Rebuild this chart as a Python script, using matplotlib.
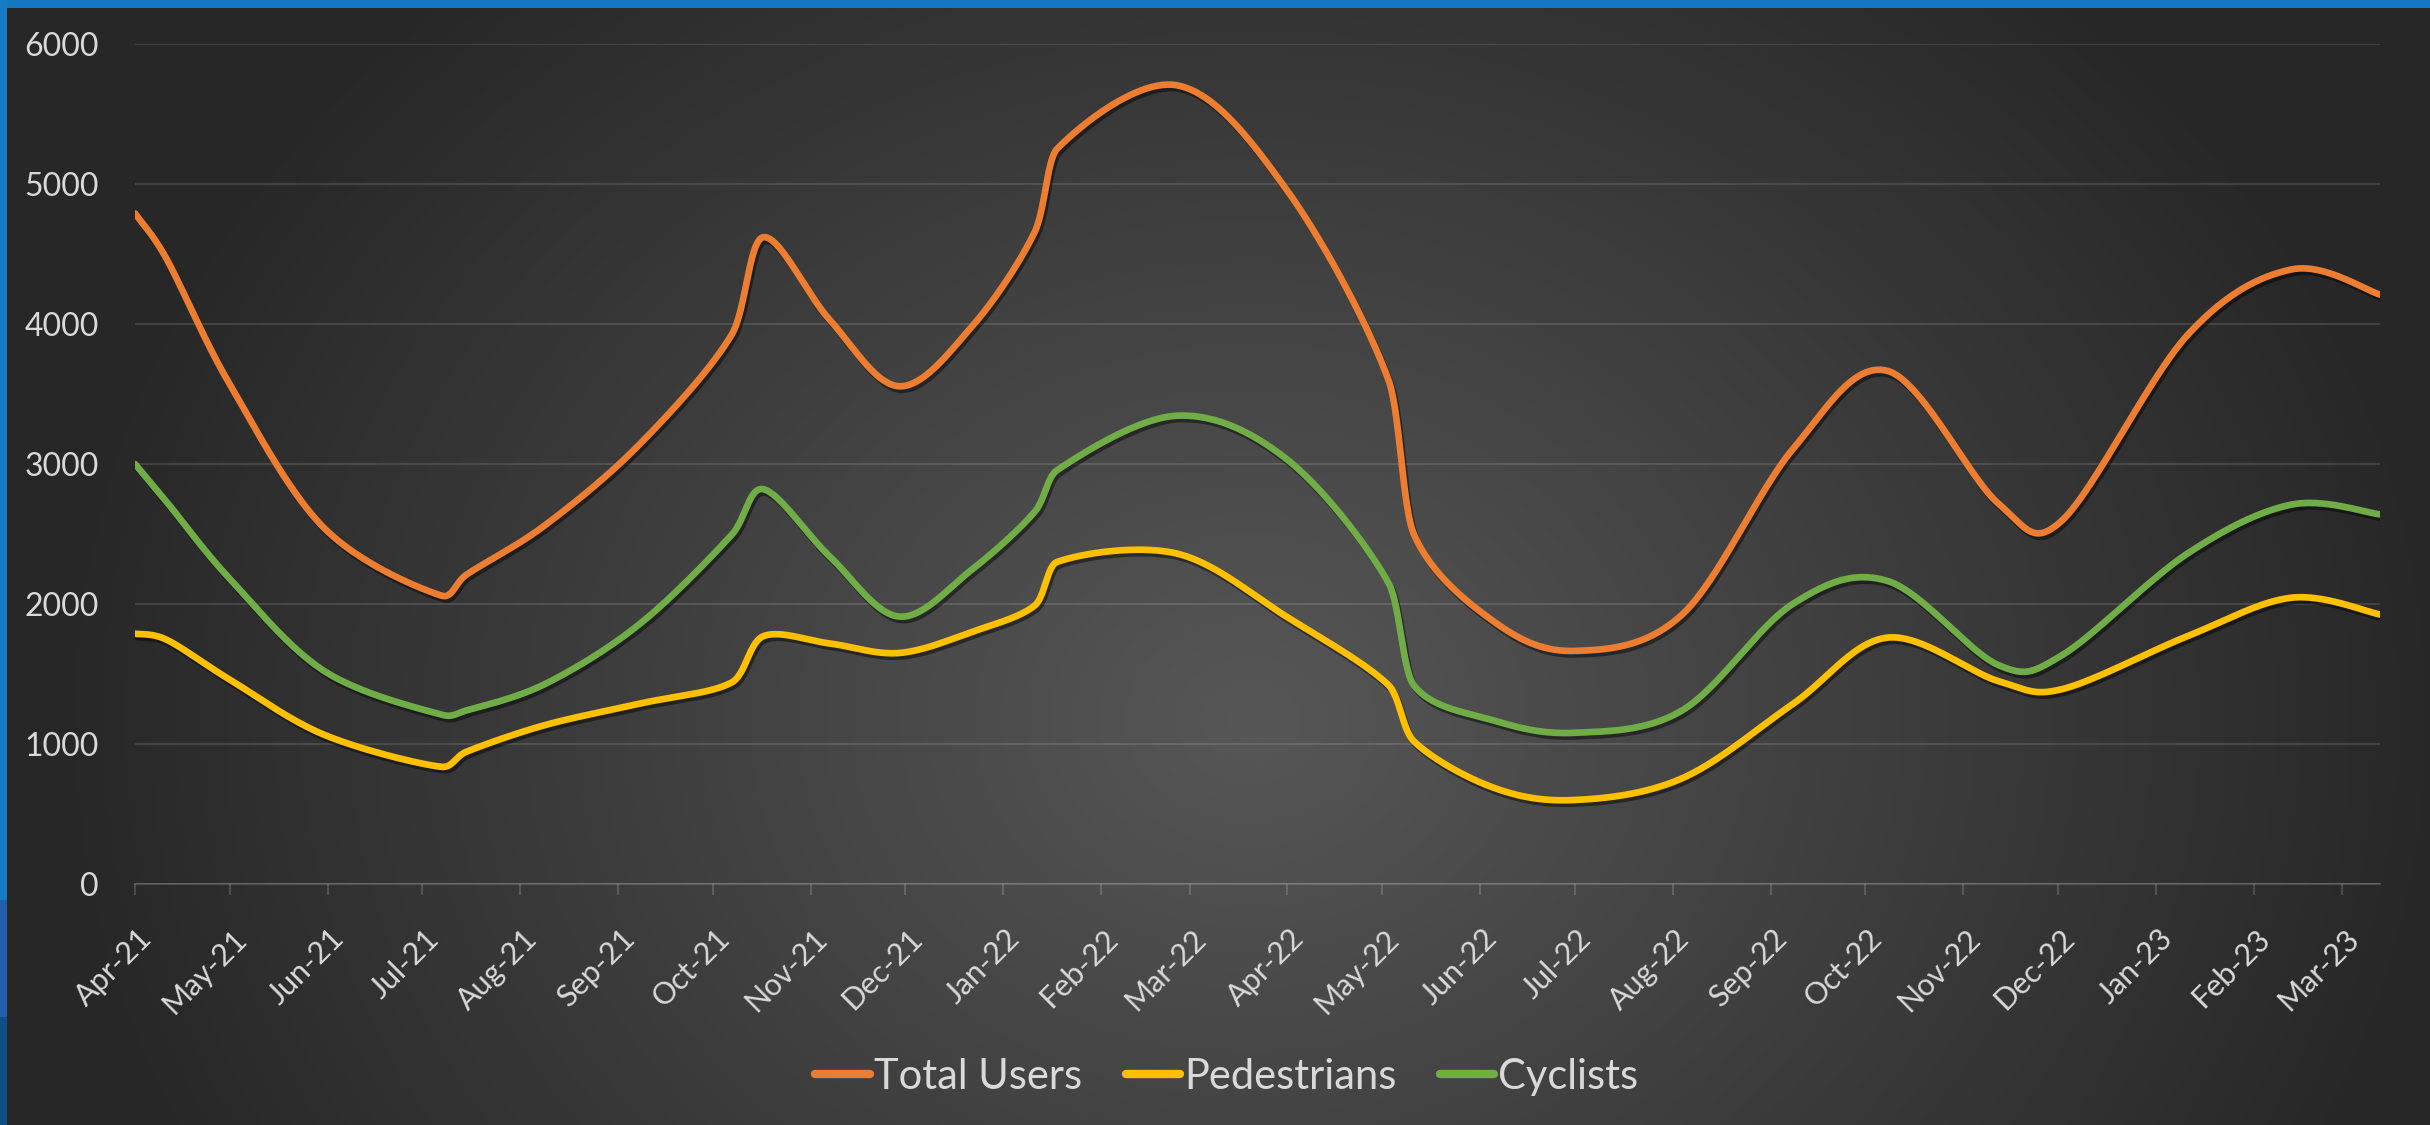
import numpy as np
import matplotlib
matplotlib.use("Agg")
import matplotlib.pyplot as plt
import matplotlib.dates as mdates
import matplotlib.patheffects as pe
from matplotlib.lines import Line2D
from matplotlib.transforms import ScaledTranslation

plt.rcParams['font.family'] = ['Lato', 'DejaVu Sans']

# data (Excel smoothed lines)
dates = ['2021-04-01', '2021-04-11', '2021-05-01', '2021-05-31', '2021-07-07',
         '2021-07-15', '2021-08-09', '2021-09-08', '2021-10-07', '2021-10-17',
         '2021-11-07', '2021-11-29', '2021-12-22', '2022-01-11', '2022-01-18',
         '2022-02-25', '2022-04-01', '2022-05-03', '2022-05-11', '2022-06-05',
         '2022-07-01', '2022-08-04', '2022-09-08', '2022-10-08', '2022-11-12',
         '2022-12-02', '2023-01-11', '2023-02-13', '2023-03-13']
total_users = [4790, 4465, 3570, 2540, 2060, 2210, 2565, 3145, 3925, 4620,
               4030, 3555, 3980, 4660, 5250, 5705, 4950, 3600, 2500, 1880,
               1665, 1925, 3105, 3665, 2720, 2590, 3920, 4390, 4210]
pedestrians = [1788, 1745, 1460, 1065, 837, 945, 1136, 1289, 1440, 1770,
               1718, 1650, 1800, 1990, 2300, 2360, 1905, 1420, 1020, 690,
               600, 755, 1285, 1760, 1450, 1390, 1770, 2045, 1925]
cyclists = [3000, 2730, 2180, 1520, 1210, 1240, 1430, 1860, 2495, 2820,
            2340, 1910, 2245, 2660, 2955, 3345, 3030, 2150, 1420, 1170,
            1080, 1240, 2000, 2165, 1565, 1630, 2360, 2710, 2640]

series = [("Total Users", total_users, "#ED7D31"),
          ("Pedestrians", pedestrians, "#FFC000"),
          ("Cyclists", cyclists, "#70AD47")]


def smooth(x, y, n=50):
    # bezier smoothing like excel's "smoothed line", tangents kept from looping back
    p = np.column_stack([x, y]).astype(float)
    out = []
    for i in range(len(p) - 1):
        p0 = p[i]
        p3 = p[i + 1]
        dx = p3[0] - p0[0]
        prev = p[i - 1] if i > 0 else p[i]
        nxt = p[i + 2] if i + 2 < len(p) else p[i + 1]
        t1 = (p3 - prev) / 6
        t2 = (nxt - p0) / 6
        if t1[0] > 0.45 * dx:
            t1 = t1 * 0.45 * dx / t1[0]
        if t2[0] > 0.45 * dx:
            t2 = t2 * 0.45 * dx / t2[0]
        p1 = p0 + t1
        p2 = p3 - t2
        t = np.linspace(0, 1, n)[:, None]
        seg = (1 - t) ** 3 * p0 + 3 * (1 - t) ** 2 * t * p1 + 3 * (1 - t) * t ** 2 * p2 + t ** 3 * p3
        out.append(seg if i == 0 else seg[1:])
    out = np.vstack(out)
    return out[:, 0], out[:, 1]


W, H = 2430, 1125
fig = plt.figure(figsize=(W / 100, H / 100), dpi=100)

# background: radial grey gradient with blue window edge
yy, xx = np.mgrid[0:H, 0:W]
r = np.sqrt(((xx - 1250) / 1200.0) ** 2 + ((yy - 720) / 1000.0) ** 2)
g = 39 + 48 * np.clip(1 - r, 0, 1)
img = np.dstack([g, g, g]) / 255.0
img[:8, :, :] = np.array([20, 120, 192]) / 255.0
img[:900, :7, :] = np.array([21, 125, 198]) / 255.0
img[900:1017, :7, :] = np.array([31, 95, 174]) / 255.0
img[1017:, :7, :] = np.array([13, 78, 136]) / 255.0
bg = fig.add_axes([0, 0, 1, 1], zorder=0)
bg.imshow(img, aspect='auto', interpolation='bilinear')
bg.axis('off')

ax = fig.add_axes([135 / W, 241 / H, 2245 / W, 840 / H], zorder=1)
ax.patch.set_alpha(0)

xnum = mdates.date2num(np.array(dates, dtype='datetime64[D]'))
for name, vals, col in series:
    sx, sy = smooth(xnum, vals)
    ax.plot(sx, sy, color=col, lw=4.8, solid_capstyle='round', zorder=3,
            path_effects=[pe.SimpleLineShadow(offset=(1.5, -2.5), shadow_color='black', alpha=0.45),
                          pe.Normal()])

ax.set_ylim(0, 6000)
ax.set_yticks(np.arange(0, 6001, 1000))
ax.set_xlim(xnum[0], xnum[-1])
ax.xaxis.set_major_locator(mdates.MonthLocator())
ax.xaxis.set_major_formatter(mdates.DateFormatter('%b-%y'))

for s in ['top', 'right', 'left']:
    ax.spines[s].set_visible(False)
ax.spines['bottom'].set_color((1, 1, 1, 0.16))
ax.spines['bottom'].set_linewidth(1.5)
ax.yaxis.grid(True, color='white', alpha=0.12, lw=1.5)
ax.set_axisbelow(True)
ax.tick_params(axis='y', length=0, pad=26, labelsize=23, labelcolor='#d9d9d9')
ax.tick_params(axis='x', length=8, width=1.5, color=(1, 1, 1, 0.16), pad=28,
               labelsize=22, labelcolor='#d9d9d9')

fig.canvas.draw()
for lbl in ax.get_xticklabels():
    lbl.set_rotation(45)
    lbl.set_ha('right')
    lbl.set_va('center')
    lbl.set_rotation_mode('anchor')
    lbl.set_transform(lbl.get_transform() + ScaledTranslation(0.12, 0, fig.dpi_scale_trans))

handles = [Line2D([], [], color=c, lw=6, solid_capstyle='round') for _, _, c in series]
labels = [n for n, _, _ in series]
leg = fig.legend(handles, labels, loc='center', bbox_to_anchor=(1227 / W, 1 - 1077 / H),
                 ncol=3, frameon=False, fontsize=30, labelcolor='#d9d9d9',
                 handlelength=1.3, handletextpad=0.1, columnspacing=1.05)

fig.savefig("out.png", dpi=100)
